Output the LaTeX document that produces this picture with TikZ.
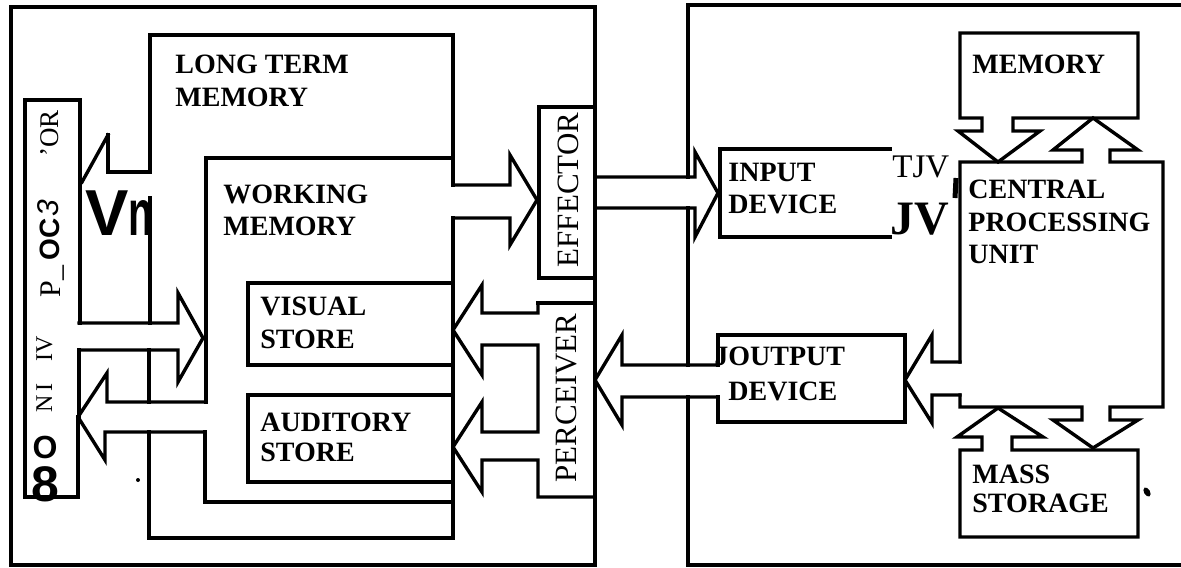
\documentclass[tikz,border=0pt]{standalone}
\usepackage{fontspec}
\setmainfont{Liberation Serif}
\setsansfont{Liberation Sans}
\usepackage{graphicx}
\begin{document}
\begin{tikzpicture}[x=0.5pt,y=-0.5pt,
  outline/.style={line width=1.7pt, line join=miter, line cap=rect},
  lbl/.style={font=\bfseries\fontsize{14}{16.5}\selectfont, align=left, anchor=north west, inner sep=0pt},
  vlbl/.style={font=\fontsize{15.5}{18}\selectfont, rotate=90, anchor=base, inner sep=0pt},
  rlbl/.style={rotate=90, anchor=base west, inner sep=0pt}]
\useasboundingbox (0,0) rectangle (1181,567);

% ---------- left (human) frame ----------
\draw[outline] (595,177) -- (595,7) -- (11,7) -- (11,565) -- (595,565) -- (595,208);
% effector -> input device
\draw[outline] (595,177) -- (695,177) -- (695,152) -- (718,193) -- (695,237) -- (695,208) -- (595,208);
% effector box
\draw[outline] (539,107) rectangle (595,278);
% long term memory -> effector
\draw[outline] (453,185) -- (510,185) -- (510,155) -- (537,200) -- (510,245) -- (510,218) -- (453,218);
% long term memory outline
\draw[outline] (108,135) -- (108,172) -- (150,172) -- (150,35) -- (453,35) -- (453,185);
\draw[outline] (108,135) -- (82,182);
\draw[outline] (453,218) -- (453,538) -- (149,538) -- (149,432);
\draw[outline] (150,198) -- (150,323);
\draw[outline] (149,350) -- (149,402);
% cognitive processor box
\draw[outline] (80,323) -- (80,100) -- (25,100) -- (25,497) -- (78,497) -- (78,417);
\draw[outline] (79,350) -- (79,417);
% processor -> working memory
\draw[outline] (79,323) -- (178,323) -- (178,293) -- (203,338) -- (178,382) -- (178,350) -- (79,350);
% working memory -> processor
\draw[outline] (206,402) -- (107,402) -- (107,373) -- (78,417) -- (105,460) -- (105,432) -- (205,432);
% working memory outline
\draw[outline] (206,402) -- (206,158) -- (453,158);
\draw[outline] (205,432) -- (205,502) -- (453,502);
% stores
\draw[outline] (248,283) rectangle (453,365);
\draw[outline] (248,395) rectangle (453,482);
% perceiver -> stores
\draw[outline] (538,303) -- (538,313) -- (482,313) -- (482,285) -- (453,330) -- (482,375) -- (482,345) -- (538,345) -- (538,432) -- (482,432) -- (482,402) -- (453,447) -- (482,492) -- (482,460) -- (538,460) -- (538,497) -- (595,497);
\draw[outline] (538,303) -- (595,303);

% ---------- right (computer) frame ----------
\draw[outline] (688,177) -- (688,5) -- (1181,5);
\draw[outline] (688,208) -- (688,365);
\draw[outline] (688,397) -- (688,565) -- (1181,565);
% output device -> perceiver
\draw[outline] (718,365) -- (622,365) -- (622,335) -- (595,380) -- (622,425) -- (622,397) -- (718,397);
% output device box
\draw[outline] (718,365) -- (718,335) -- (905,335) -- (905,422) -- (718,422) -- (718,397);
% input device box
\draw[outline] (890,149) -- (720,149) -- (720,237) -- (890,237);
% CPU with arrows
\draw[outline] (960,362) -- (932,362) -- (932,335) -- (905,380) -- (932,423) -- (932,395) -- (960,395);
\draw[outline] (960,362) -- (960,162) -- (1082,162) -- (1082,150) -- (1053,150) -- (1093,118) -- (1138,150) -- (1110,150) -- (1110,162) -- (1163,162) -- (1163,407) -- (1110,407) -- (1110,420) -- (1138,420) -- (1093,448) -- (1053,420) -- (1082,420) -- (1082,407) -- (960,407) -- (960,395);
% memory with arrow
\draw[outline] (982,118) -- (960,118) -- (960,33) -- (1138,33) -- (1138,118) -- (1013,118) -- (1013,131) -- (1040,131) -- (998,162) -- (958,131) -- (982,131) -- cycle;
% mass storage with arrow
\draw[outline] (982,450) -- (982,437) -- (957,437) -- (998,408) -- (1043,437) -- (1012,437) -- (1012,450) -- (1138,450) -- (1138,537) -- (960,537) -- (960,450) -- cycle;

% ---------- labels ----------
\node[lbl] (ltm) at (175,55) {LONG TERM\\MEMORY};
\node[lbl, font=\bfseries\fontsize{14}{16}\selectfont] (wm) at (223,185) {WORKING\\MEMORY};
\node[lbl] (vs) at (260,297) {VISUAL\\STORE};
\node[lbl, font=\bfseries\fontsize{14}{15}\selectfont] (as) at (260,413) {AUDITORY\\STORE};
\node[vlbl] (eff) at (578,190) {EFFECTOR};
\node[vlbl] (per) at (576,398) {PERCEIVER};
\node[lbl, font=\bfseries\fontsize{14}{16}\selectfont] (inp) at (728,163) {INPUT\\DEVICE};
\node[lbl, font=\bfseries\fontsize{14}{17.5}\selectfont] (outp) at (728,347) {\llap{J}OUTPUT\\DEVICE};
\node[lbl] (mem) at (972,55) {MEMORY};
\node[lbl, font=\bfseries\fontsize{14}{16.25}\selectfont] (cpu) at (968,180) {CENTRAL\\PROCESSING\\UNIT};
\node[lbl, font=\bfseries\fontsize{14}{14.5}\selectfont] (mass) at (972,465) {MASS\\STORAGE};
\node[anchor=base west, inner sep=0pt, font=\fontsize{16.5}{18}\selectfont] (tjv) at (892,177) {TJV};
\node[anchor=base west, inner sep=0pt, font=\bfseries\fontsize{24}{26}\selectfont] (jv) at (890,234) {JV};
\draw[line width=2.5pt] (956,178) -- (955,198);
\node[anchor=base west, inner sep=0pt, font=\sffamily\bfseries\fontsize{32.5}{34}\selectfont] (vn) at (85,235) {V\scalebox{0.62}[1]{n}};
% cognitive processor garbled vertical text
\node[rlbl, font=\fontsize{13.5}{15}\selectfont] (c1) at (58,157) {'OR};
\node[rlbl, font=\sffamily\itshape\fontsize{15}{16}\selectfont] (c2) at (58,217) {3};
\node[rlbl, font=\sffamily\bfseries\fontsize{14}{16}\selectfont] (c3) at (59,261) {OC};
\node[rlbl, font=\fontsize{15}{16}\selectfont] (c4) at (60,298) {P\_};
\node[rlbl, font=\fontsize{12}{14}\selectfont] (c5) at (52,362) {IV};
\node[rlbl, font=\fontsize{12}{14}\selectfont] (c6) at (52,413) {N\,I};
\node[inner sep=0pt, font=\sffamily\bfseries\fontsize{16}{18}\selectfont] (c7) at (45,447) {O};
\node[inner sep=0pt, font=\sffamily\bfseries\fontsize{25}{27}\selectfont] (c8) at (45,484) {8};
% specks
\fill (138,480) circle (1pt);
\fill[rotate around={30:(1147,492)}] (1147,492) ellipse (1.5pt and 2.5pt);
\end{tikzpicture}
\end{document}
